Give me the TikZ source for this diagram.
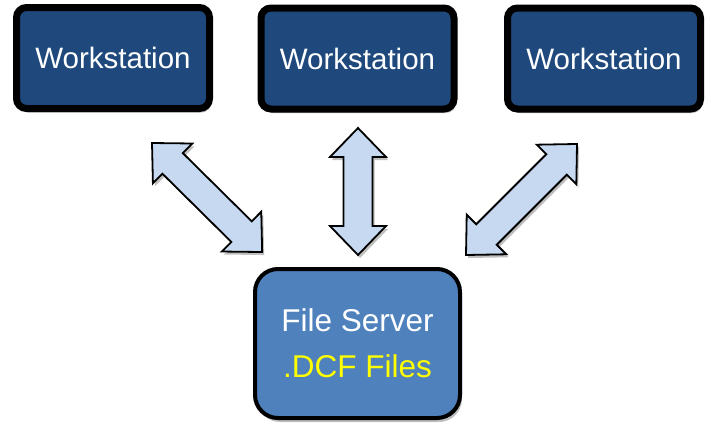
\documentclass[tikz,border=0pt]{standalone}
\usepackage{fontspec}
\setmainfont{Liberation Sans}
\usetikzlibrary{shadows}
\definecolor{wsblue}{HTML}{1F497D}
\definecolor{fsblue}{HTML}{4F81BD}
\definecolor{arrowblue}{HTML}{C6D9F1}
\definecolor{dcfyellow}{HTML}{FFFF00}
\tikzset{
  wsbox/.style={draw=black, line width=7pt, fill=wsblue, rounded corners=10pt,
    minimum width=193pt, minimum height=101pt, inner sep=0pt, text=white,
    font=\fontsize{29.5}{34}\selectfont,
    drop shadow={shadow xshift=2pt, shadow yshift=-4pt, opacity=0.25, fill=black}},
  fsbox/.style={draw=black, line width=4pt, fill=fsblue, rounded corners=23pt,
    minimum width=205pt, minimum height=149pt, inner sep=0pt, text=white, align=center,
    font=\fontsize{31.5}{46}\selectfont,
    drop shadow={shadow xshift=2pt, shadow yshift=-4pt, opacity=0.25, fill=black}},
  blockarrow/.style={draw=black, line width=1.8pt, fill=arrowblue, line join=miter,
    drop shadow={shadow xshift=2pt, shadow yshift=-3pt, opacity=0.25, fill=black}},
  pics/dblarrow/.style={code={
    \path[blockarrow] (0,0) -- (29,28) -- (29,14.5) -- (#1-29,14.5) -- (#1-29,28)
      -- (#1,0) -- (#1-29,-28) -- (#1-29,-14.5) -- (29,-14.5) -- (29,-28) -- cycle;
  }}
}
\begin{document}
\begin{tikzpicture}[x=1pt, y=-1pt]
\useasboundingbox (0,0) rectangle (711,423);
\node[wsbox] (ws1) at (113,58) {Workstation};
\node[wsbox] (ws2) at (357.5,58.5) {Workstation};
\node[wsbox] (ws3) at (604,58.5) {Workstation};
\node[fsbox] (fs) at (357.5,343.5) {File Server\\\textcolor{dcfyellow}{.DCF Files}};
\coordinate (a1s) at (152,143);
\coordinate (a2s) at (358,128);
\coordinate (a3s) at (466,255);
\pic[rotate=-44.7] at (a1s) {dblarrow=155};
\pic[rotate=-90] at (a2s) {dblarrow=127};
\pic[rotate=45] at (a3s) {dblarrow=157};
\end{tikzpicture}
\end{document}
